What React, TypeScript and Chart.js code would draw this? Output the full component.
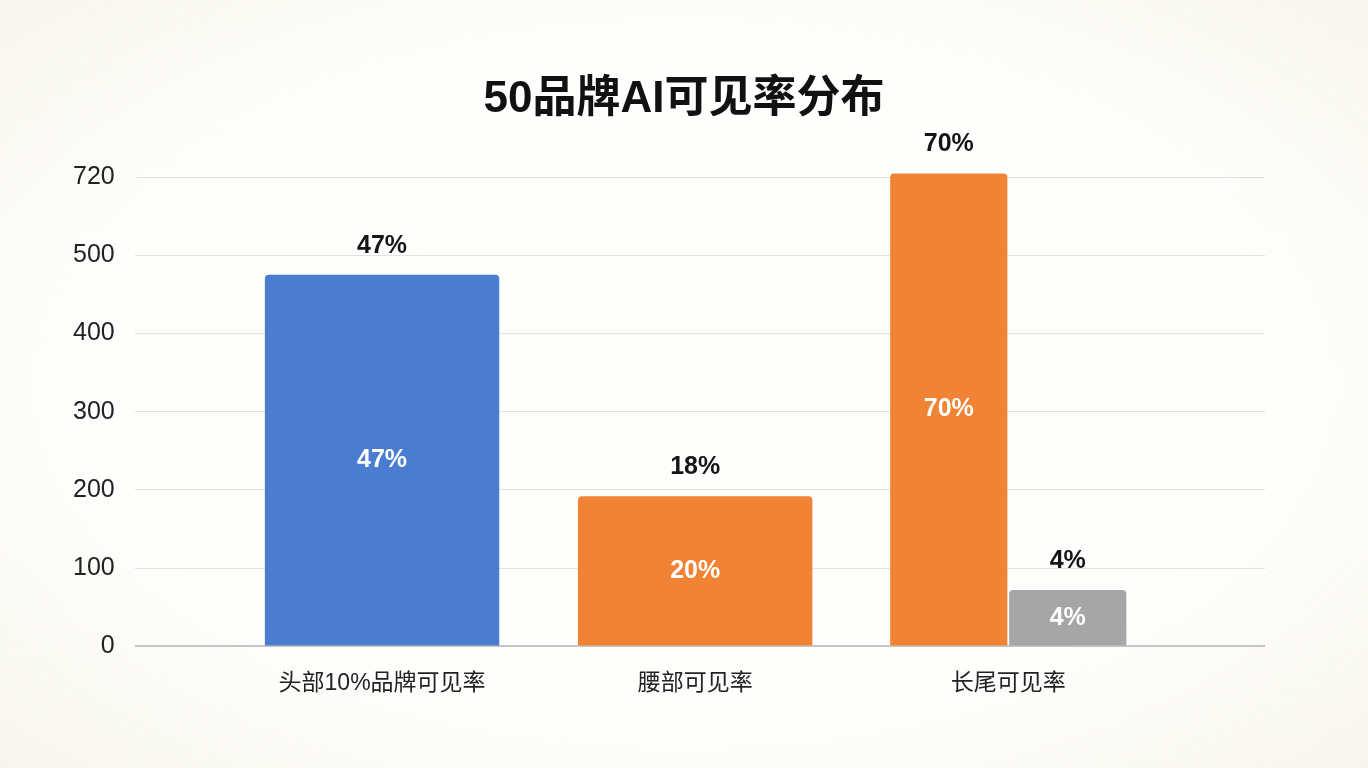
import {useEffect, useRef} from "react";
import {BarController, BarElement, CategoryScale, Chart, LinearScale} from "chart.js";

const chartTitle = '50品牌AI可见率分布';
const categories = ['头部10%品牌可见率', '腰部可见率', '长尾可见率'];
const mainValues = [475, 192, 730];
const tailValues = [null, null, 72];
const mainColors = ['#4a7dd0', '#f08334', '#f08334'];
const tailColor = '#a6a6a6';
const mainTopLabels = ['47%', '18%', '70%'];
const mainInnerLabels = ['47%', '20%', '70%'];
const tailTopLabels = [null, null, '4%'];
const tailInnerLabels = [null, null, '4%'];
const yTickValues = [0, 100, 200, 300, 400, 500, 720];

const topLabelSets = [mainTopLabels, tailTopLabels];
const innerLabelSets = [mainInnerLabels, tailInnerLabels];

const FONT = '"Liberation Sans", Arial, "Noto Sans CJK SC", sans-serif';

// y axis whose tick values are spread evenly, values in between are interpolated per segment
class PiecewiseScale extends LinearScale {
    static id = 'piecewise';
    static defaults = {};

    determineDataLimits() {
        this.min = yTickValues[0];
        this.max = yTickValues[yTickValues.length - 1];
    }

    buildTicks() {
        return yTickValues.map((value) => ({value}));
    }

    getPixelForValue(value: number) {
        const t = yTickValues;
        const n = t.length;
        let i = 0;
        while (i < n - 2 && value > t[i + 1]) i++;
        const dec = (i + (value - t[i]) / (t[i + 1] - t[i])) / (n - 1);
        return this.getPixelForDecimal(dec);
    }

    getValueForPixel(pixel: number) {
        const t = yTickValues;
        const n = t.length;
        const d = this.getDecimalForPixel(pixel) * (n - 1);
        const i = Math.min(Math.max(Math.floor(d), 0), n - 2);
        return t[i] + (d - i) * (t[i + 1] - t[i]);
    }
}

// category axis with some empty room at both ends of the plot area
class PaddedCategoryScale extends CategoryScale {
    static id = 'paddedCategory';
    static defaults = CategoryScale.defaults;

    buildTicks() {
        const ticks = super.buildTicks();
        const o: any = this.options;
        const padL = o.padStart ?? 0;
        const padR = o.padEnd ?? 0;
        (this as any)._startValue -= padL;
        (this as any)._valueRange += padL + padR;
        return ticks;
    }
}

Chart.register([BarController, BarElement, CategoryScale, LinearScale, PiecewiseScale, PaddedCategoryScale]);

// title centred on the whole canvas
const pageTitle = {
    id: 'pageTitle',
    afterDraw(chart: any) {
        const {ctx} = chart;
        ctx.save();
        ctx.font = `bold 44px ${FONT}`;
        ctx.fillStyle = '#111111';
        ctx.textAlign = 'center';
        ctx.textBaseline = 'middle';
        ctx.fillText(chartTitle, chart.width / 2, 100);
        ctx.restore();
    }
};

const barLabels = {
    id: 'barLabels',
    afterDatasetsDraw(chart: any) {
        const {ctx} = chart;
        chart.data.datasets.forEach((ds: any, di: number) => {
            const meta = chart.getDatasetMeta(di);
            meta.data.forEach((bar: any, i: number) => {
                if (ds.data[i] == null) return;
                const {x, y, base} = bar.getProps(['x', 'y', 'base'], true);
                ctx.save();
                ctx.font = `bold 25px ${FONT}`;
                ctx.textAlign = 'center';
                ctx.textBaseline = 'middle';
                ctx.fillStyle = '#151515';
                ctx.fillText(topLabelSets[di][i], x, y - 29);
                ctx.fillStyle = '#ffffff';
                ctx.fillText(innerLabelSets[di][i], x, (y + base) / 2);
                ctx.restore();
            });
        });
    }
};

const VisibilityChart = () => {
    const canvasRef = useRef<HTMLCanvasElement>(null);

    useEffect(() => {
        const ctx = canvasRef.current;
        if (!ctx) return;
        document.body.style.margin = '0';

        const myChart = new Chart(ctx, {
            type: 'bar',
            data: {
                labels: categories,
                datasets: [
                    {
                        data: mainValues,
                        backgroundColor: mainColors,
                        borderRadius: 4,
                        skipNull: true,
                        clip: false,
                    },
                    {
                        data: tailValues,
                        backgroundColor: tailColor,
                        borderRadius: 4,
                        skipNull: true,
                        clip: false,
                    }
                ]
            } as any,
            options: {
                responsive: true,
                maintainAspectRatio: false,
                animation: false,
                layout: {padding: {left: 53, right: 103, top: 177, bottom: 56}},
                datasets: {bar: {categoryPercentage: 0.76, barPercentage: 0.985}},
                plugins: {
                    legend: {display: false},
                    tooltip: {enabled: false}
                },
                scales: {
                    x: {
                        type: 'paddedCategory',
                        offset: true,
                        padStart: 0.29,
                        padEnd: 0.32,
                        grid: {display: false},
                        border: {display: false},
                        ticks: {color: '#222222', font: {family: FONT, size: 23}, padding: 15}
                    },
                    y: {
                        type: 'piecewise',
                        grid: {
                            drawTicks: false,
                            color: (c: any) => (c.tick && c.tick.value === 0 ? '#c6c6c6' : '#e2e2e2'),
                            lineWidth: (c: any) => (c.tick && c.tick.value === 0 ? 2 : 1)
                        },
                        border: {display: false},
                        ticks: {
                            color: '#222222',
                            font: {family: FONT, size: 25},
                            padding: 20,
                            callback: (v: any) => String(v)
                        }
                    }
                } as any
            },
            plugins: [barLabels, pageTitle]
        });
        return () => {
            myChart.destroy();
        };
    }, []);

    return (
        <div style={{
            width: 1368,
            height: 768,
            position: 'relative',
            background: 'radial-gradient(ellipse at center, #fefefd 60%, #f7f6ee 100%)'
        }}>
            <canvas ref={canvasRef}></canvas>
        </div>
    );
};

export default function App() {
    return <VisibilityChart/>;
}
